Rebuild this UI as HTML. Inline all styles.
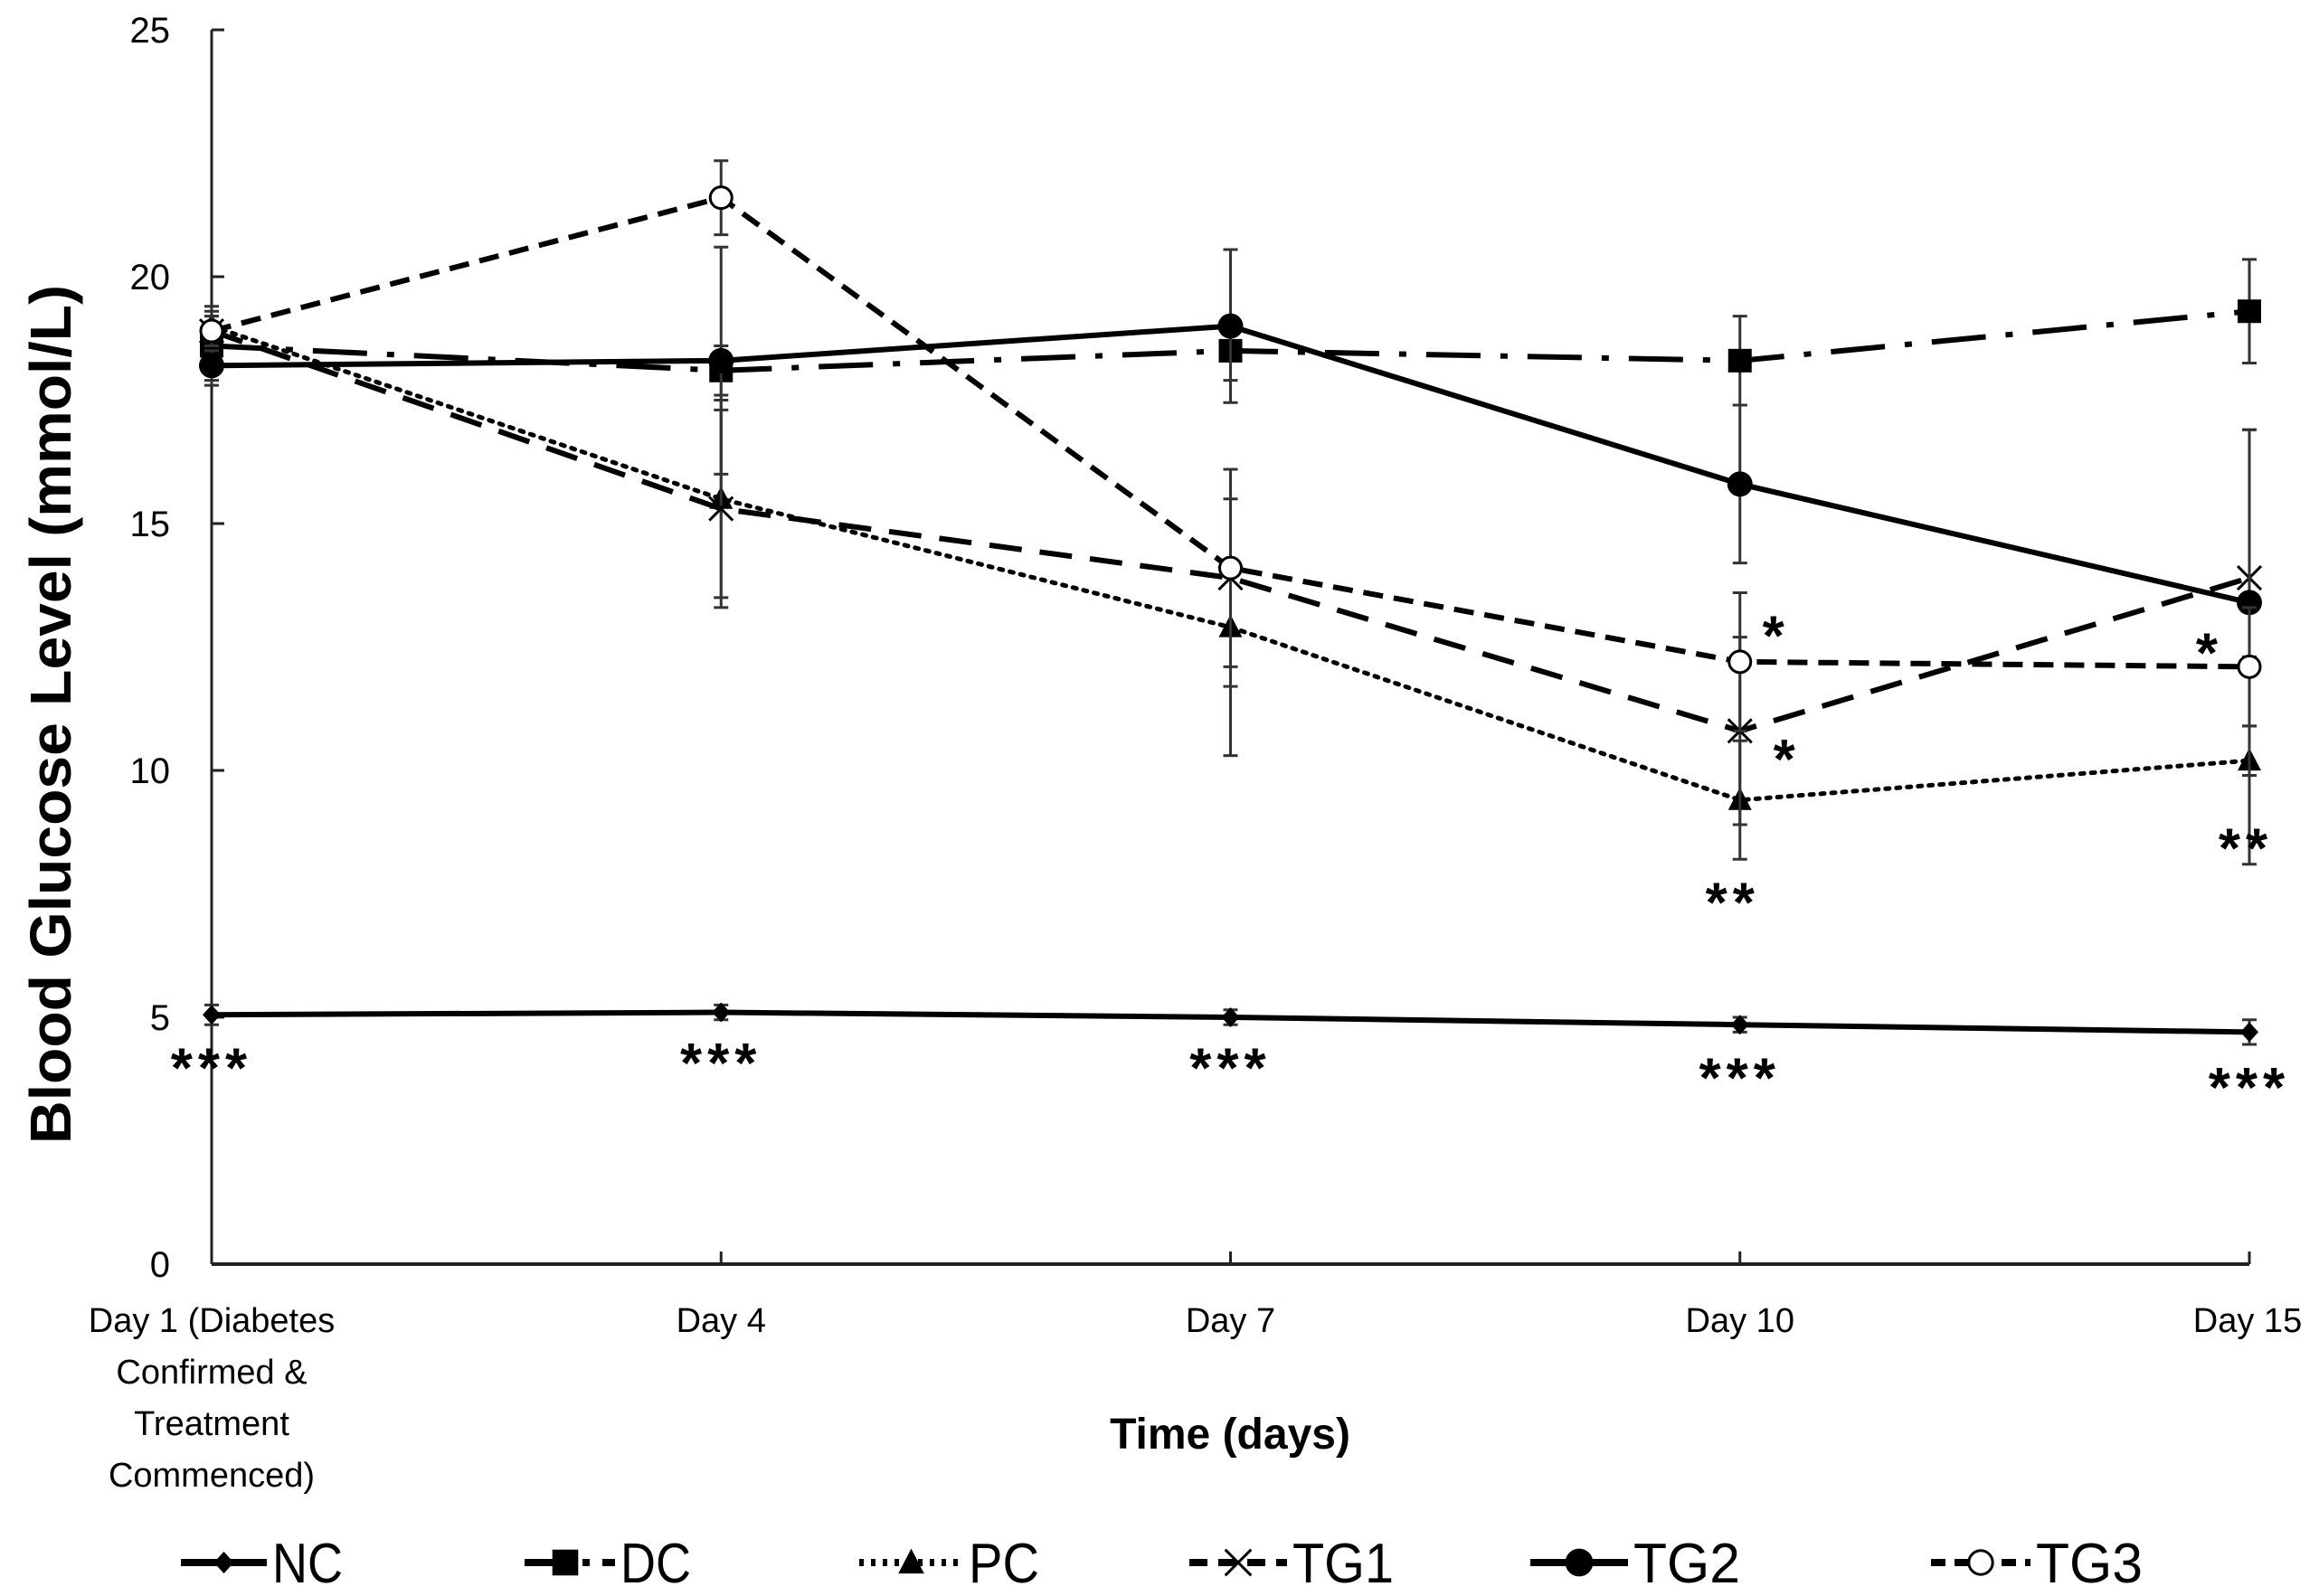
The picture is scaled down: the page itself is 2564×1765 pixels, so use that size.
<!DOCTYPE html>
<html><head><meta charset="utf-8">
<style>
html,body{margin:0;padding:0;background:#fff;}
svg{display:block;font-family:"Liberation Sans Narrow","Liberation Sans",sans-serif;}
</style></head>
<body>
<svg id="chart" width="2564" height="1765" viewBox="0 0 2564 1765" xmlns="http://www.w3.org/2000/svg">
<g id="axes"></g>
<g id="series"></g>
<g id="stars"></g>
<g id="legend"></g>
<text transform="translate(78,790) rotate(-90)" text-anchor="middle" font-family="Liberation Sans, sans-serif" font-weight="bold" font-size="64" textLength="950" lengthAdjust="spacingAndGlyphs" fill="#000">Blood Glucose Level (mmol/L)</text>
<text x="1360" y="1602" text-anchor="middle" font-family="Liberation Sans, sans-serif" font-weight="bold" font-size="48" fill="#000">Time (days)</text>
</svg>
<script>
const categories = ["Day 1", "Day 4", "Day 7", "Day 10", "Day 15"];
const yTicks = [0, 5, 10, 15, 20, 25];
const seriesNames = ["NC", "DC", "PC", "TG1", "TG2", "TG3"];
const ncValues = [5.05, 5.1, 5.0, 4.85, 4.7];
const dcValues = [18.6, 18.1, 18.5, 18.3, 19.3];
const pcValues = [19.0, 15.5, 12.9, 9.4, 10.2];
const tg1Values = [18.9, 15.3, 13.9, 10.8, 13.9];
const tg2Values = [18.2, 18.3, 19.0, 15.8, 13.4];
const tg3Values = [18.9, 21.6, 14.1, 12.2, 12.1];
const ncErr = [0.2, 0.15, 0.15, 0.15, 0.25];
const dcErr = [0.8, 0.5, 0.6, 0.9, 1.05];
const pcErr = [0.3, 2.0, 2.6, 1.2, 2.1];
const tg1Err = [0.3, 2.0, 2.2, 1.9, 3.0];
const tg2Err = [0.3, 2.3, 1.55, 1.6, 3.5];
const tg3Err = [0.3, 0.75, 2.0, 1.4, 1.2];
const starCats = [0,1,2,3,4, 3,3,3, 4,4];
const starVals = [3.95,4.05,3.95,3.75,3.55, 12.7,10.2,7.3, 12.35,8.4];
const starLabels = ["***","***","***","***","***","*","*","**","*","**"];
const starDx = [0,0,0,0,0, 40,52,-8,-44,-4];

const NS="http://www.w3.org/2000/svg";
const X0=234, X1=2487, Y0=1398, Y1=33;
function xs(i){return X0+(X1-X0)*i/(categories.length-1);}
function ys(v){return Y0-(Y0-Y1)*v/25;}
function mk(tag,attrs,parent){const e=document.createElementNS(NS,tag);for(const k in attrs)e.setAttribute(k,attrs[k]);parent.appendChild(e);return e;}

const axes=document.getElementById('axes');
let yl=mk('line',{x1:X0,y1:Y1,x2:X0,y2:Y0,stroke:'#222','stroke-width':3},axes);


let xl=mk('line',{x1:X0,y1:Y0,x2:X1,y2:Y0,stroke:'#222','stroke-width':4},axes);


yTicks.forEach(t=>{
  let tk=mk('line',{x1:X0,y1:ys(t),x2:X0+14,y2:ys(t),stroke:'#222','stroke-width':3},axes);
  
  
  let tl=mk('text',{x:188,y:ys(t)+14,'text-anchor':'end','font-size':40,fill:'#000'},axes);
  
  
  tl.textContent=t;
});
const xLabelLines=[["Day 1 (Diabetes","Confirmed &","Treatment","Commenced)"],["Day 4"],["Day 7"],["Day 10"],["Day 15"]];
categories.forEach((c,i)=>{
  if(i>0){let tk=mk('line',{x1:xs(i),y1:Y0,x2:xs(i),y2:Y0-14,stroke:'#222','stroke-width':3},axes);
  
  }
  let tl=mk('text',{'text-anchor':'middle','font-size':38,fill:'#000'},axes);
  
  
  xLabelLines[i].forEach((ln,j)=>{const ts=mk('tspan',{x:i==4?xs(i)-2:xs(i),y:1473+j*57},tl);ts.textContent=ln;});
});

const sers=[
 {v:ncValues,e:ncErr,dash:'',m:'diamond'},
 {v:dcValues,e:dcErr,dash:'60 22 8 22',m:'square'},
 {v:pcValues,e:pcErr,dash:'4 8',m:'triangle'},
 {v:tg1Values,e:tg1Err,dash:'36 20',m:'x'},
 {v:tg2Values,e:tg2Err,dash:'',m:'circle'},
 {v:tg3Values,e:tg3Err,dash:'22 12',m:'ocircle'}
];
function marker(type,x,y,g,s){
  s=s||1;
  let e;
  if(type=='diamond') e=mk('polygon',{points:`${x},${y-11*s} ${x+10*s},${y} ${x},${y+11*s} ${x-10*s},${y}`,fill:'#000'},g);
  else if(type=='square') e=mk('rect',{x:x-13*s,y:y-13*s,width:26*s,height:26*s,fill:'#000'},g);
  else if(type=='triangle') e=mk('polygon',{points:`${x},${y-14*s} ${x+13*s},${y+11*s} ${x-13*s},${y+11*s}`,fill:'#000'},g);
  else if(type=='x') e=mk('path',{d:`M${x-13*s},${y-13*s}L${x+13*s},${y+13*s}M${x+13*s},${y-13*s}L${x-13*s},${y+13*s}`,stroke:'#000','stroke-width':3,fill:'none'},g);
  else if(type=='circle') e=mk('circle',{cx:x,cy:y,r:14*s,fill:'#000'},g);
  else e=mk('circle',{cx:x,cy:y,r:12*s,fill:'#fff',stroke:'#000','stroke-width':3},g);
  
  
}
const sg=document.getElementById('series');
sers.forEach((s,k)=>{
  const g=mk('g',{},sg);
  
  
  s.v.forEach((v,i)=>{
    const x=xs(i);
    let eb=mk('path',{d:`M${x},${ys(v+s.e[i])}L${x},${ys(v-s.e[i])}M${x-8},${ys(v+s.e[i])}L${x+8},${ys(v+s.e[i])}M${x-8},${ys(v-s.e[i])}L${x+8},${ys(v-s.e[i])}`,stroke:'#333','stroke-width':3,fill:'none'},g);
    
    
  });
  const pts=s.v.map((v,i)=>xs(i)+','+ys(v)).join(' ');
  const a={points:pts,fill:'none',stroke:'#000','stroke-width':6};
  if(s.dash)a['stroke-dasharray']=s.dash;
  if(s.m=='triangle'){a['stroke-linecap']='round';a['stroke-width']=5;}
  let pl=mk('polyline',a,g);
  
  
  s.v.forEach((v,i)=>marker(s.m,xs(i),ys(v),g));
});

const st=document.getElementById('stars');
starLabels.forEach((l,i)=>{
  let t=mk('text',{x:xs(starCats[i])+starDx[i],y:ys(starVals[i])+20,'text-anchor':'middle','font-size':62,'font-weight':'bold','letter-spacing':6,'font-family':'Liberation Sans, sans-serif'},st);
  
  
  t.textContent=l;
});

const lg=document.getElementById('legend');
const legX=[200,580,950,1315,1692,2135];
const legW=[95,100,115,108,108,110];
const legTL=[78,78,78,112,118,118];
sers.forEach((s,k)=>{
  const g=mk('g',{},lg);
  
  
  const y=1728, x=legX[k], w=legW[k];
  const a={x1:x,y1:y,x2:x+w,y2:y,stroke:'#000','stroke-width':8};
  if(s.dash)a['stroke-dasharray']=s.m=='square'?'50 14 8 14':(s.m=='triangle'?'5 8':(s.m=='x'?'20 12':'16 10'));
  mk('line',a,g);
  marker(s.m,x+w/2+ (s.m=='square'?-5:0),y,g,1.1);
  let t=mk('text',{x:x+w+6,y:y+22,'font-size':62,fill:'#000',textLength:legTL[k],lengthAdjust:'spacingAndGlyphs'},g);
  
  
  t.textContent=seriesNames[k];
});
</script>
</body></html>
